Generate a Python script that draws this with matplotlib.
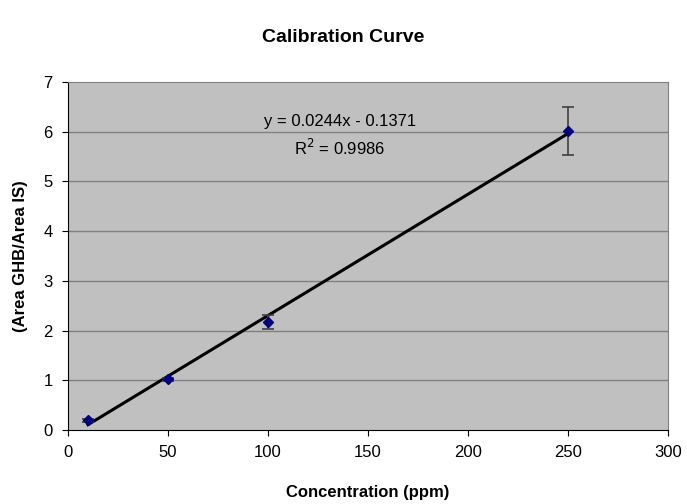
import matplotlib
matplotlib.use("Agg")
import matplotlib.pyplot as plt
import numpy as np

plt.rcParams['font.family'] = ['Liberation Sans', 'DejaVu Sans']

conc = [10, 50, 100, 250]
ratio = [0.20, 1.02, 2.17, 6.01]
err = [0.03, 0.03, 0.14, 0.48]
slope = 0.0244
intercept = -0.1371
r2 = 0.9986
xticks = [0, 50, 100, 150, 200, 250, 300]
yticks = [0, 1, 2, 3, 4, 5, 6, 7]

fig = plt.figure(figsize=(6.87, 5.04), dpi=100)
ax = fig.add_axes([68/687, 1-430/504, 600/687, 348/504])
ax.set_facecolor('#C0C0C0')
ax.set_xlim(0, 300)
ax.set_ylim(0, 7)
ax.set_xticks(xticks)
ax.set_yticks(yticks)
for y in yticks[1:-1]:
    ax.axhline(y, color='#808080', lw=1.0, zorder=1)

xs = np.array([min(conc), max(conc)])
ax.plot(xs, slope*xs + intercept, color='black', lw=2.2, zorder=3)
ax.errorbar(conc, ratio, yerr=err, fmt='D', color='#000080', ms=5,
            ecolor='#404040', elinewidth=1.2, capsize=4, capthick=1.2, zorder=4)

ax.text(136, 6.2, 'y = 0.0244x - 0.1371', ha='center', va='center', fontsize=12)
ax.text(136, 5.68, 'R$^2$ = 0.9986', ha='center', va='center', fontsize=12)

for s in ax.spines.values():
    s.set_color('#808080')
ax.spines['left'].set_color('black')
ax.spines['bottom'].set_color('black')
ax.tick_params(direction='out', length=4, labelsize=12, color='black', pad=7)

ax.set_xlabel('Concentration (ppm)', fontsize=12, fontweight='bold', labelpad=18)
ax.set_ylabel('(Area GHB/Area IS)', fontsize=12, fontweight='bold', labelpad=11)
fig.text(0.5, 1-38/504, 'Calibration Curve', ha='center', va='center', fontsize=14, fontweight='bold')

fig.savefig('out.png', dpi=100)
